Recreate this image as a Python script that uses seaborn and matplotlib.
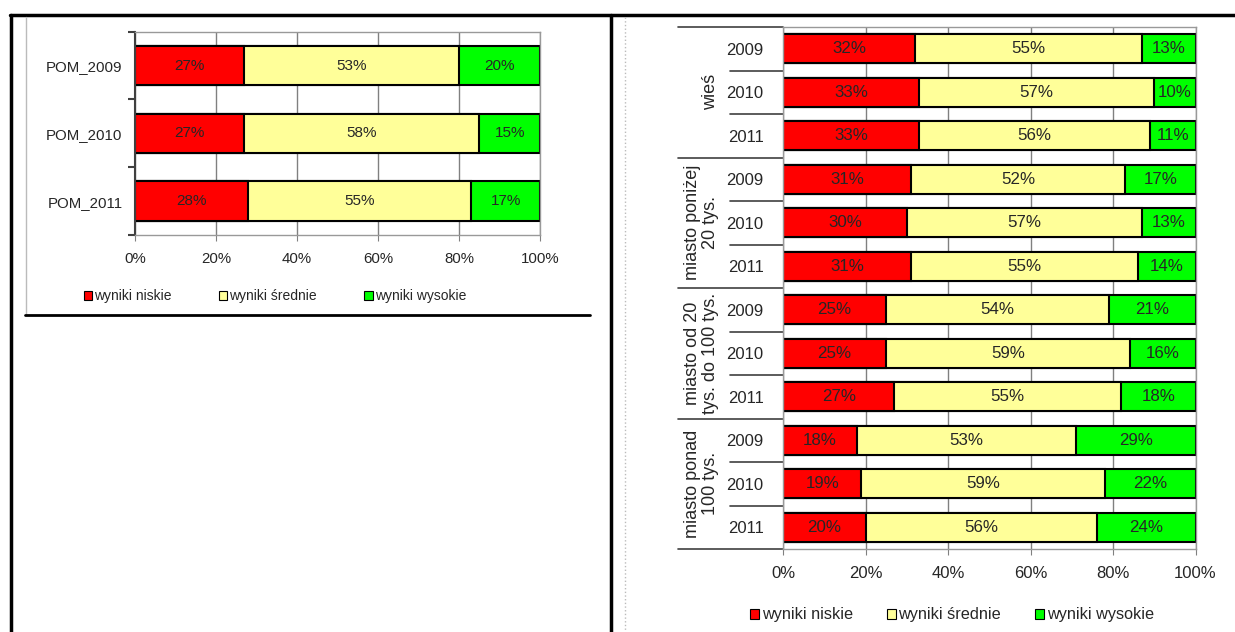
import pandas as pd
import seaborn as sns
import matplotlib.pyplot as plt
from matplotlib.lines import Line2D
from matplotlib.patches import Patch
import matplotlib.transforms as mtransforms

# lewy wykres - województwo
pom_labels = ["POM_2009", "POM_2010", "POM_2011"]
pom_niskie = [27, 27, 28]
pom_srednie = [53, 58, 55]
pom_wysokie = [20, 15, 17]

# prawy wykres - wg lokalizacji szkoly
grupy = ["wieś", "miasto poniżej\n20 tys.", "miasto od 20\ntys. do 100 tys.", "miasto ponad\n100 tys."]
lata = ["2009", "2010", "2011"]
m_niskie = [32, 33, 33, 31, 30, 31, 25, 25, 27, 18, 19, 20]
m_srednie = [55, 57, 56, 52, 57, 55, 54, 59, 55, 53, 59, 56]
m_wysokie = [13, 10, 11, 17, 13, 14, 21, 16, 18, 29, 22, 24]

serie = ["wyniki niskie", "wyniki średnie", "wyniki wysokie"]
kolory = ["#FF0000", "#FFFF99", "#00FF00"]
ticks_x = [0, 20, 40, 60, 80, 100]

sns.set_style("white")
plt.rcParams["font.family"] = ["Liberation Sans", "DejaVu Sans"]

W, H = 1235, 632
fig = plt.figure(figsize=(W / 100, H / 100), dpi=100)


def fx(x):
    return x / W


def fy(y):
    return 1 - y / H


def rect(l, t, r, b):
    return [fx(l), fy(b), fx(r) - fx(l), fy(t) - fy(b)]


def stacked(ax, labels, niskie, srednie, wysokie, width, fs):
    df = pd.DataFrame({"kat": labels, "n": niskie, "s": srednie, "w": wysokie})
    df["c1"] = df["n"]
    df["c2"] = df["n"] + df["s"]
    df["c3"] = df["c2"] + df["w"]
    # nakladanie slupkow od najdluzszego
    for col, kol in zip(["c3", "c2", "c1"], kolory[::-1]):
        sns.barplot(data=df, x=col, y="kat", color=kol, saturation=1, width=width,
                    edgecolor="black", linewidth=1.5, errorbar=None, orient="h", ax=ax)
    for i, row in df.iterrows():
        for start, v in zip([0, row["c1"], row["c2"]], [row["n"], row["s"], row["w"]]):
            ax.text(start + v / 2, i, f"{v}%", ha="center", va="center", fontsize=fs)
    ax.set_xlim(0, 100)
    ax.set_xticks(ticks_x)
    ax.set_xticklabels([f"{t}%" for t in ticks_x])
    ax.set_xlabel("")
    ax.set_ylabel("")
    ax.xaxis.grid(True, color="#808080", lw=1)
    ax.set_axisbelow(True)
    for s in ["top", "right", "bottom"]:
        ax.spines[s].set_color("#999999")
        ax.spines[s].set_linewidth(1)
    ax.tick_params(axis="x", bottom=True, length=4, color="#808080", direction="out")
    return df


# ---- lewy wykres
ax1 = fig.add_axes(rect(135, 31.7, 540, 235))
stacked(ax1, pom_labels, pom_niskie, pom_srednie, pom_wysokie, 0.58, 11)
ax1.spines["left"].set_color("#404040")
ax1.spines["left"].set_linewidth(1.5)
ax1.set_yticks([-0.5, 0.5, 1.5, 2.5], minor=True)
ax1.tick_params(axis="y", which="major", length=0, pad=9, labelsize=10.8)
ax1.tick_params(axis="y", which="minor", left=True, length=5, width=1.5, color="#404040")
ax1.tick_params(axis="x", labelsize=10.8, pad=8)

fig.legend(handles=[Patch(facecolor=c, edgecolor="black", lw=0.8, label=s) for c, s in zip(kolory, serie)],
           loc="center", bbox_to_anchor=(fx(275), fy(296)), ncol=3, frameon=False, fontsize=10,
           handlelength=0.6, handleheight=0.6, handletextpad=0.15, columnspacing=3.4)

# ---- prawy wykres
ax2 = fig.add_axes(rect(783, 27, 1195.5, 549))
kat = [f"{g}|{r}" for g in grupy for r in lata]
stacked(ax2, kat, m_niskie, m_srednie, m_wysokie, 0.667, 12.2)
ax2.set_yticks(range(len(kat)))
ax2.set_yticklabels(lata * len(grupy))
ax2.spines["left"].set_color("#999999")
ax2.spines["left"].set_linewidth(1)
ax2.tick_params(axis="y", length=0, pad=14, labelsize=12)
ax2.tick_params(axis="x", labelsize=12, pad=8)

tr = mtransforms.blended_transform_factory(ax2.transAxes, ax2.transData)
x_grp = (678 - 783) / 412.5
x_rok = (730 - 783) / 412.5
for k in range(len(grupy) + 1):
    ax2.add_line(Line2D([x_grp, 0], [3 * k - 0.5] * 2, transform=tr, color="#404040", lw=1.2, clip_on=False))
for k in range(len(grupy)):
    for j in (0.5, 1.5):
        ax2.add_line(Line2D([x_rok, 0], [3 * k + j] * 2, transform=tr, color="#404040", lw=1.2, clip_on=False))
    ax2.text((719 - 783) / 412.5, 3 * k + 1, grupy[k], transform=tr, rotation=90, ha="right", va="center",
             multialignment="center", fontsize=13, linespacing=1.05)

fig.legend(handles=[Patch(facecolor=c, edgecolor="black", lw=0.8, label=s) for c, s in zip(kolory, serie)],
           loc="center", bbox_to_anchor=(fx(952), fy(615)), ncol=3, frameon=False, fontsize=11.7,
           handlelength=0.55, handleheight=0.55, handletextpad=0.15, columnspacing=2.1)

# ---- ramki tabeli
ramki = [
    ([10, 1235], [15, 15], "black", 2.5, "-"),
    ([10.5, 10.5], [15, 632], "black", 2.5, "-"),
    ([611, 611], [15, 632], "black", 2.5, "-"),
    ([25.5, 25.5], [17, 315], "#bbbbbb", 1, "-"),
    ([25, 590], [315, 315], "black", 2, "-"),
    ([625, 625], [17, 632], "#bbbbbb", 1, ":"),
]
for xs, ys, c, lw, ls in ramki:
    fig.add_artist(Line2D([fx(v) for v in xs], [fy(v) for v in ys], transform=fig.transFigure,
                          color=c, lw=lw, ls=ls))

fig.savefig("out.png", dpi=100)
